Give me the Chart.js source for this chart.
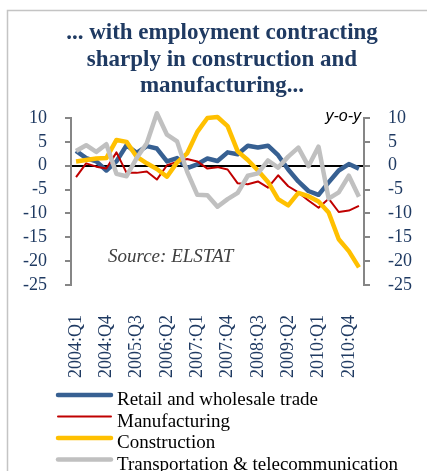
<!DOCTYPE html>
<html>
<head>
<meta charset="utf-8">
<title>Employment by sector</title>
<script src="https://cdn.jsdelivr.net/npm/chart.js@4.4.1/dist/chart.umd.min.js"></script>
<style>
  html, body { margin: 0; padding: 0; background: #fff; }
  #wrap { width: 427px; height: 471px; }
</style>
</head>
<body>
<div id="wrap"><canvas id="employmentChart" width="427" height="471"></canvas></div>
<script>
// Quarterly employment growth, y-o-y %, by sector
const quarters = [
  '2004:Q1', '2004:Q2', '2004:Q3', '2004:Q4',
  '2005:Q1', '2005:Q2', '2005:Q3', '2005:Q4',
  '2006:Q1', '2006:Q2', '2006:Q3', '2006:Q4',
  '2007:Q1', '2007:Q2', '2007:Q3', '2007:Q4',
  '2008:Q1', '2008:Q2', '2008:Q3', '2008:Q4',
  '2009:Q1', '2009:Q2', '2009:Q3', '2009:Q4',
  '2010:Q1', '2010:Q2', '2010:Q3', '2010:Q4',
  '2011:Q1'
];
const retailTrade = [3.1, 1.6, 0.9, -1.0, 0.9, 4.3, 2.7, 4.1, 3.6, 0.9, 1.6, -0.5, 0.3, 1.5, 1.0, 2.8, 2.4, 4.2, 3.8, 4.2, 2.2, -0.8, -3.3, -5.3, -6.1, -3.5, -1.0, 0.35, -0.6];
const manufacturing = [-2.4, 0.5, -0.2, -0.6, 2.8, -1.5, -1.5, -1.2, -2.9, 0.1, 0.8, 1.4, 0.9, -0.6, -0.3, -0.8, -3.7, -3.9, -3.3, -4.6, -2.0, -4.3, -5.6, -7.3, -8.8, -6.9, -9.7, -9.4, -8.4];
const construction = [0.9, 1.2, 1.5, 1.6, 5.4, 5.0, 1.9, 0.5, -0.7, -2.3, 0.7, 2.6, 7.1, 10.0, 10.2, 8.3, 3.0, 1.2, -1.0, -3.4, -7.0, -8.3, -5.7, -6.4, -7.5, -9.8, -15.4, -17.9, -21.3];
const transportTelecom = [3.1, 4.3, 2.9, 4.5, -1.7, -2.2, 1.6, 4.7, 11.0, 6.5, 5.1, -1.3, -6.1, -6.2, -8.6, -7.0, -5.7, -2.1, -1.6, 1.1, -0.4, 1.9, 3.8, -0.1, 4.0, -6.9, -5.6, -2.1, -6.5];

const seriesNames = ['Retail and wholesale trade', 'Manufacturing', 'Construction', 'Transportation & telecommunication'];
const yTicks = [10, 5, 0, -5, -10, -15, -20, -25];
const titleLines = ['... with employment contracting', 'sharply in construction and', 'manufacturing...'];
const sourceNote = 'Source: ELSTAT';
const unitNote = 'y-o-y';

const navy = '#1f3a62';
const axisGrey = '#868686';
const serif = '"Liberation Serif", "Times New Roman", serif';

// Frame, title, notes and the stacked legend are painted around the plot
const chartDecor = {
    id: 'chartDecor',
    beforeDraw(chart) {
        const ctx = chart.ctx;
        ctx.save();
        ctx.fillStyle = '#fff';
        ctx.fillRect(0, 0, chart.width, chart.height);
        ctx.strokeStyle = '#c4c4c4';
        ctx.lineWidth = 1.5;
        ctx.strokeRect(7.5, 10.5, chart.width, chart.height);
        ctx.restore();
    },
    afterDraw(chart) {
        const ctx = chart.ctx;
        const area = chart.chartArea;
        ctx.save();

        // Title
        ctx.fillStyle = navy;
        ctx.font = `bold 23px ${serif}`;
        ctx.textAlign = 'center';
        ctx.textBaseline = 'alphabetic';
        titleLines.forEach((line, i) => ctx.fillText(line, 222, 39 + i * 26.7));

        // Unit note, top right of the plot
        ctx.fillStyle = '#000';
        ctx.font = 'italic 16px "Liberation Sans", Arial, sans-serif';
        ctx.textAlign = 'right';
        ctx.fillText(unitNote, area.right - 3, 121);

        // Source note
        ctx.fillStyle = '#404040';
        ctx.font = `italic 19px ${serif}`;
        ctx.textAlign = 'left';
        ctx.fillText(sourceNote, 108, 262);

        // Legend, one entry per row
        ctx.font = `19px ${serif}`;
        chart.data.datasets.forEach((ds, i) => {
            const base = 405 + i * 21.5;
            ctx.strokeStyle = ds.borderColor;
            ctx.lineWidth = ds.borderWidth;
            ctx.lineCap = 'round';
            ctx.beginPath();
            ctx.moveTo(58, base - 10);
            ctx.lineTo(111, base - 10);
            ctx.stroke();
            ctx.fillStyle = '#000';
            ctx.fillText(ds.label, 117, base);
        });
        ctx.restore();
    }
};

// Lines may run slightly past the 10 mark, so they are not clipped to the plot
const lineSeries = (label, data, color, width, order) => ({
    label,
    data,
    borderColor: color,
    borderWidth: width,
    pointRadius: 0,
    tension: 0,
    borderJoinStyle: 'round',
    clip: false,
    order
});

const sideAxis = (position, width) => ({
    type: 'linear',
    position,
    min: Math.min(...yTicks),
    max: Math.max(...yTicks),
    ticks: {
        stepSize: 5,
        autoSkip: false,
        padding: 18,
        color: navy,
        font: { family: serif, size: 18 }
    },
    grid: {
        drawOnChartArea: position === 'left',
        color: ctx => (ctx.tick && ctx.tick.value === 0 ? '#000' : 'rgba(0,0,0,0)'),
        lineWidth: 2,
        tickLength: 6,
        tickColor: axisGrey,
        tickWidth: 2
    },
    border: { color: axisGrey, width: 2 },
    afterFit: scale => { scale.width = width; }
});

const ctx = document.getElementById('employmentChart').getContext('2d');
new Chart(ctx, {
    type: 'line',
    data: {
        labels: quarters,
        datasets: [
            lineSeries(seriesNames[0], retailTrade, '#376092', 4.5, 4),
            lineSeries(seriesNames[1], manufacturing, '#c00000', 2, 3),
            lineSeries(seriesNames[2], construction, '#ffc000', 4.5, 2),
            lineSeries(seriesNames[3], transportTelecom, '#c0c0c0', 4.5, 1)
        ]
    },
    options: {
        responsive: false,
        animation: false,
        devicePixelRatio: 1,
        layout: { padding: { top: 118, left: 0, right: 0, bottom: 0 } },
        plugins: {
            legend: { display: false },
            tooltip: { enabled: false }
        },
        scales: {
            x: {
                offset: true,
                grid: { display: false, drawTicks: false },
                border: { display: false },
                ticks: {
                    autoSkip: false,
                    minRotation: 90,
                    maxRotation: 90,
                    padding: 30,
                    color: navy,
                    font: { family: serif, size: 18 },
                    callback: (value, index) => (index % 3 === 0 ? quarters[index] : '')
                },
                afterFit: scale => { scale.height = 471 - 285; }
            },
            y: sideAxis('left', 71),
            y2: sideAxis('right', 63)
        }
    },
    plugins: [chartDecor]
});
</script>
</body>
</html>
